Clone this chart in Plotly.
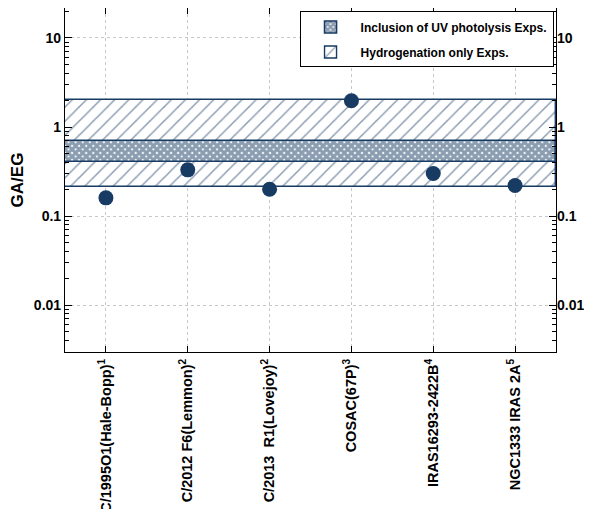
import plotly.graph_objects as go

# ---- data ----
sources = [
    "C/1995O1(Hale-Bopp)<sup>1</sup>",
    "C/2012 F6(Lemmon)<sup>2</sup>",
    "C/2013  R1(Lovejoy)<sup>2</sup>",
    "COSAC(67P)<sup>3</sup>",
    "IRAS16293-2422B<sup>4</sup>",
    "NGC1333 IRAS 2A<sup>5</sup>",
]
ga_eg = [0.16, 0.33, 0.20, 1.97, 0.30, 0.22]
hydrogenation_range = [0.21, 2.0]   # Hydrogenation only Exps.
uv_range = [0.40, 0.70]             # Inclusion of UV photolysis Exps.
ytick_vals = [0.01, 0.1, 1, 10]
ytick_text = ["0.01", "0.1", "1", "10"]
minor_vals = [m * 10.0 ** e for e in range(-3, 2) for m in range(2, 10)]

NAVY = "#173b63"
FONT = "Liberation Sans, Arial, sans-serif"
xpos = list(range(len(sources)))
span_center = (xpos[0] + xpos[-1]) / 2
span_width = len(sources)

fig = go.Figure()

fig.add_trace(go.Bar(
    x=[span_center], width=[span_width],
    base=[hydrogenation_range[0]], y=[hydrogenation_range[1] - hydrogenation_range[0]],
    name="Hydrogenation only Exps.", legendrank=2, legendgroup="b",
    marker=dict(color="white", line=dict(color=NAVY, width=1.4),
                pattern=dict(shape="/", fgcolor=NAVY, bgcolor="white", size=10, solidity=0.15)),
    hoverinfo="skip",
))
fig.add_trace(go.Bar(
    x=[span_center], width=[span_width],
    base=[uv_range[0]], y=[uv_range[1] - uv_range[0]],
    name="Inclusion of UV photolysis Exps.", legendrank=1, legendgroup="a",
    marker=dict(color="white", line=dict(color=NAVY, width=1.6),
                pattern=dict(shape="x", fgcolor=NAVY, bgcolor="white", size=5, solidity=0.85)),
    hoverinfo="skip",
))
fig.add_trace(go.Scatter(
    x=xpos, y=ga_eg, mode="markers", showlegend=False,
    marker=dict(size=15, color=NAVY),
))
# invisible trace for right axis
fig.add_trace(go.Scatter(x=[xpos[0]], y=[ga_eg[0]], yaxis="y2", mode="markers",
                         marker=dict(opacity=0), showlegend=False, hoverinfo="skip"))

axis_font = dict(family=FONT, size=14, color="black", weight="bold")
yrange = [-2.528, 1.337]
minor = dict(tickmode="array", tickvals=minor_vals, ticks="inside", ticklen=4,
             tickcolor="black", showgrid=False)

fig.update_layout(
    width=584, height=501,
    margin=dict(l=57, r=36, t=0, b=157),
    paper_bgcolor="white", plot_bgcolor="white",
    barmode="overlay", bargap=0,
    font=dict(family=FONT, color="black"),
    xaxis=dict(
        range=[-0.5, 5.5], tickmode="array", tickvals=xpos, ticktext=sources,
        tickangle=-90, tickfont=dict(family=FONT, size=14.5, color="black", weight="bold"),
        ticks="inside", ticklen=6, tickcolor="black",
        showline=True, linecolor="black", linewidth=1.2, mirror="ticks",
        showgrid=True, gridcolor="#c8c8c8", griddash="dot", gridwidth=1,
        zeroline=False, automargin=False,
    ),
    yaxis=dict(
        type="log", range=yrange, tickmode="array", tickvals=ytick_vals, ticktext=ytick_text,
        tickfont=axis_font, ticks="inside", ticklen=7, tickcolor="black", minor=minor,
        showline=True, linecolor="black", linewidth=1.2, mirror=True,
        showgrid=True, gridcolor="#c8c8c8", griddash="dot", gridwidth=1,
        zeroline=False, automargin=False,
        title=dict(text="GA/EG", font=dict(family=FONT, size=17, color="black", weight="bold"),
                   standoff=12),
    ),
    yaxis2=dict(
        type="log", range=yrange, overlaying="y", side="right", matches="y",
        tickmode="array", tickvals=ytick_vals, ticktext=ytick_text,
        tickfont=axis_font, ticks="inside", ticklen=7, tickcolor="black", minor=minor,
        showline=False, showgrid=False, zeroline=False, automargin=False,
    ),
    legend=dict(
        x=0.995, y=0.99, xanchor="right", yanchor="top",
        bgcolor="white", bordercolor="black", borderwidth=1,
        font=dict(family=FONT, size=12, color="black", weight="bold"),
        tracegroupgap=6, itemwidth=50,
    ),
)

fig.write_html("out.html")
